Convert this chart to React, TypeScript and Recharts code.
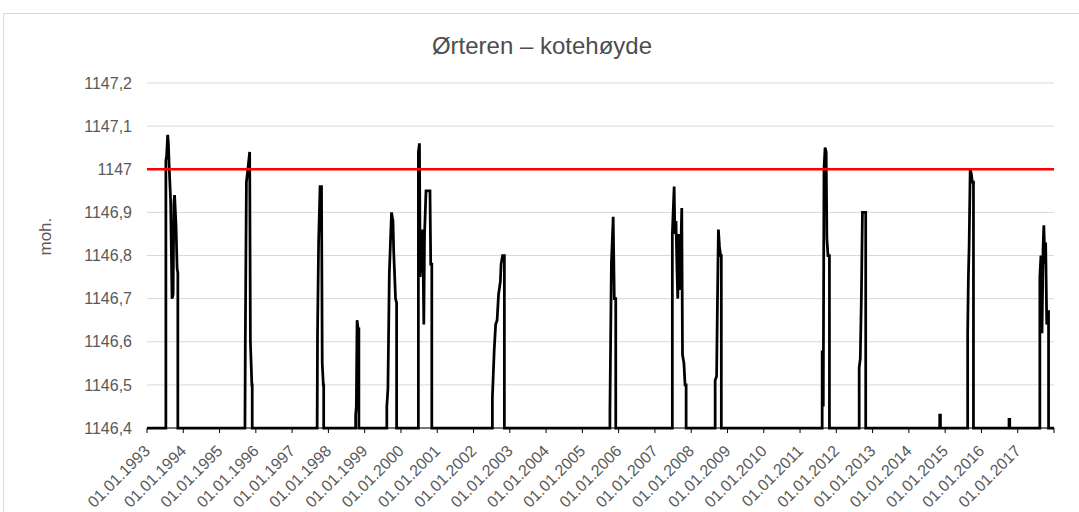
import { LineChart, Line, XAxis, YAxis, CartesianGrid, ReferenceLine } from "recharts";

// Kotehøyde for Ørteren. Time is in decimal years,
// each flood episode starts and ends on the 1146,4 baseline.
const years = [
  1993.0,
  // 1993
  1993.52, 1993.52, 1993.54, 1993.57, 1993.59, 1993.61, 1993.65, 1993.69, 1993.72, 1993.74, 1993.76, 1993.8, 1993.83, 1993.85, 1993.85,
  // 1995
  1995.7, 1995.71, 1995.74, 1995.78, 1995.83, 1995.85, 1995.87, 1995.89, 1995.9, 1995.9,
  // 1997
  1997.69, 1997.7, 1997.73, 1997.77, 1997.81, 1997.83, 1997.86, 1997.87, 1997.87,
  // 1998
  1998.75, 1998.75, 1998.77, 1998.79, 1998.82, 1998.84, 1998.84,
  // 1999
  1999.61, 1999.61, 1999.64, 1999.68, 1999.74, 1999.78, 1999.8, 1999.85, 1999.88, 1999.88,
  // 2000
  2000.48, 2000.48, 2000.51, 2000.53, 2000.55, 2000.58, 2000.6, 2000.63, 2000.65, 2000.69, 2000.73, 2000.8, 2000.82, 2000.85, 2000.85,
  // 2002
  2002.52, 2002.52, 2002.57, 2002.61, 2002.65, 2002.69, 2002.74, 2002.76, 2002.8, 2002.85, 2002.85,
  // 2005
  2005.76, 2005.76, 2005.8, 2005.85, 2005.88, 2005.92, 2005.92,
  // 2007
  2007.48, 2007.48, 2007.53, 2007.55, 2007.58, 2007.61, 2007.63, 2007.66, 2007.69, 2007.74, 2007.76, 2007.8, 2007.83, 2007.86, 2007.86,
  // 2008
  2008.66, 2008.66, 2008.7, 2008.72, 2008.75, 2008.78, 2008.81, 2008.83, 2008.83,
  // 2011
  2011.61, 2011.61, 2011.64, 2011.66, 2011.69, 2011.72, 2011.74, 2011.77, 2011.81, 2011.81,
  // 2012
  2012.63, 2012.63, 2012.66, 2012.69, 2012.72, 2012.77, 2012.81, 2012.81,
  // 2014
  2014.85, 2014.85, 2014.87, 2014.87,
  // 2015
  2015.62, 2015.62, 2015.64, 2015.66, 2015.69, 2015.72, 2015.75, 2015.78, 2015.78,
  // 2016
  2016.76, 2016.76, 2016.78, 2016.78,
  // 2017
  2017.61, 2017.61, 2017.64, 2017.67, 2017.7, 2017.72, 2017.75, 2017.77, 2017.8, 2017.84, 2017.85, 2017.85,
  2018.0,
];

const kote = [
  1146.4,
  1146.4, 1147.02, 1147.03, 1147.08, 1147.06, 1147.01, 1146.93, 1146.7, 1146.71, 1146.92, 1146.94, 1146.87, 1146.77, 1146.76, 1146.4,
  1146.4, 1146.6, 1146.97, 1147.0, 1147.04, 1146.6, 1146.55, 1146.5, 1146.5, 1146.4,
  1146.4, 1146.62, 1146.83, 1146.96, 1146.96, 1146.55, 1146.5, 1146.5, 1146.4,
  1146.4, 1146.43, 1146.45, 1146.65, 1146.63, 1146.63, 1146.4,
  1146.4, 1146.45, 1146.49, 1146.76, 1146.9, 1146.88, 1146.81, 1146.7, 1146.69, 1146.4,
  1146.4, 1147.04, 1147.06, 1146.75, 1146.84, 1146.76, 1146.86, 1146.64, 1146.85, 1146.95, 1146.95, 1146.95, 1146.78, 1146.78, 1146.4,
  1146.4, 1146.47, 1146.58, 1146.64, 1146.65, 1146.71, 1146.74, 1146.78, 1146.8, 1146.8, 1146.4,
  1146.4, 1146.44, 1146.78, 1146.89, 1146.7, 1146.7, 1146.4,
  1146.4, 1146.85, 1146.96, 1146.85, 1146.88, 1146.76, 1146.7, 1146.85, 1146.72, 1146.91, 1146.57, 1146.55, 1146.5, 1146.5, 1146.4,
  1146.4, 1146.51, 1146.52, 1146.67, 1146.86, 1146.82, 1146.8, 1146.8, 1146.4,
  1146.4, 1146.58, 1146.45, 1147.0, 1147.05, 1147.04, 1146.84, 1146.8, 1146.8, 1146.4,
  1146.4, 1146.54, 1146.56, 1146.7, 1146.9, 1146.9, 1146.9, 1146.4,
  1146.4, 1146.43, 1146.43, 1146.4,
  1146.4, 1146.62, 1146.75, 1146.82, 1147.0, 1146.99, 1146.97, 1146.97, 1146.4,
  1146.4, 1146.42, 1146.42, 1146.4,
  1146.4, 1146.75, 1146.8, 1146.62, 1146.82, 1146.87, 1146.78, 1146.83, 1146.64, 1146.67, 1146.67, 1146.4,
  1146.4,
];

const yTicks = [1146.4, 1146.5, 1146.6, 1146.7, 1146.8, 1146.9, 1147.0, 1147.1, 1147.2];
const xTicks = [
  1993, 1994, 1995, 1996, 1997, 1998, 1999, 2000, 2001, 2002, 2003, 2004, 2005,
  2006, 2007, 2008, 2009, 2010, 2011, 2012, 2013, 2014, 2015, 2016, 2017, 2018,
];
const lastLabel = 2017;
const grense = 1147;

const data = years.map((t, i) => ({ t, kote: kote[i] }));

const FONT = '"Liberation Sans", Arial, sans-serif';
const GREY = "#595959";

const fmtKote = (v: number) => String(Number(v.toFixed(1))).replace(".", ",");

function DateTick({ x, y, payload }: any) {
  if (payload.value > lastLabel) return <g />;
  const cy = y + 13;
  return (
    <text
      x={x}
      y={cy}
      dy="0.35em"
      textAnchor="end"
      transform={`rotate(-45, ${x}, ${cy})`}
      fill={GREY}
      fontSize={16}
      fontFamily={FONT}
    >
      {`01.01.${payload.value}`}
    </text>
  );
}

export default function App() {
  return (
    <div style={{ position: "absolute", left: 0, top: 0, width: 1079, height: 512, overflow: "hidden", background: "#fff" }}>
      <div
        style={{
          position: "absolute",
          left: 3,
          top: 13,
          width: 1100,
          height: 520,
          border: "1px solid #d9d9d9",
          boxSizing: "border-box",
        }}
      />
      <div
        style={{
          position: "absolute",
          left: 3,
          top: 31,
          width: 1078,
          textAlign: "center",
          fontFamily: FONT,
          fontSize: 24,
          lineHeight: "30px",
          color: "#4d4d4d",
        }}
      >
        Ørteren – kotehøyde
      </div>
      <div style={{ position: "absolute", left: 0, top: 0 }}>
        <LineChart width={1079} height={512} data={data} margin={{ top: 83, right: 25, bottom: 14, left: 87 }}>
          <CartesianGrid vertical={false} stroke="#d9d9d9" />
          <XAxis
            type="number"
            dataKey="t"
            domain={[1993, 2018]}
            ticks={xTicks}
            interval={0}
            height={70}
            tickSize={5}
            axisLine={{ stroke: "#000" }}
            tickLine={{ stroke: "#000" }}
            tick={<DateTick />}
          />
          <YAxis
            type="number"
            domain={[1146.4, 1147.2]}
            ticks={yTicks}
            interval={0}
            width={60}
            axisLine={false}
            tickLine={false}
            tickMargin={9}
            tickFormatter={fmtKote}
            tick={{ fill: GREY, fontSize: 16, fontFamily: FONT }}
            label={{
              value: "moh.",
              angle: -90,
              position: "insideLeft",
              offset: -42,
              fill: GREY,
              fontSize: 17,
              fontFamily: FONT,
            }}
          />
          <Line
            type="linear"
            dataKey="kote"
            stroke="#000"
            strokeWidth={2.75}
            dot={false}
            isAnimationActive={false}
          />
          <ReferenceLine y={grense} stroke="#ff0000" strokeWidth={2.5} />
        </LineChart>
      </div>
    </div>
  );
}
